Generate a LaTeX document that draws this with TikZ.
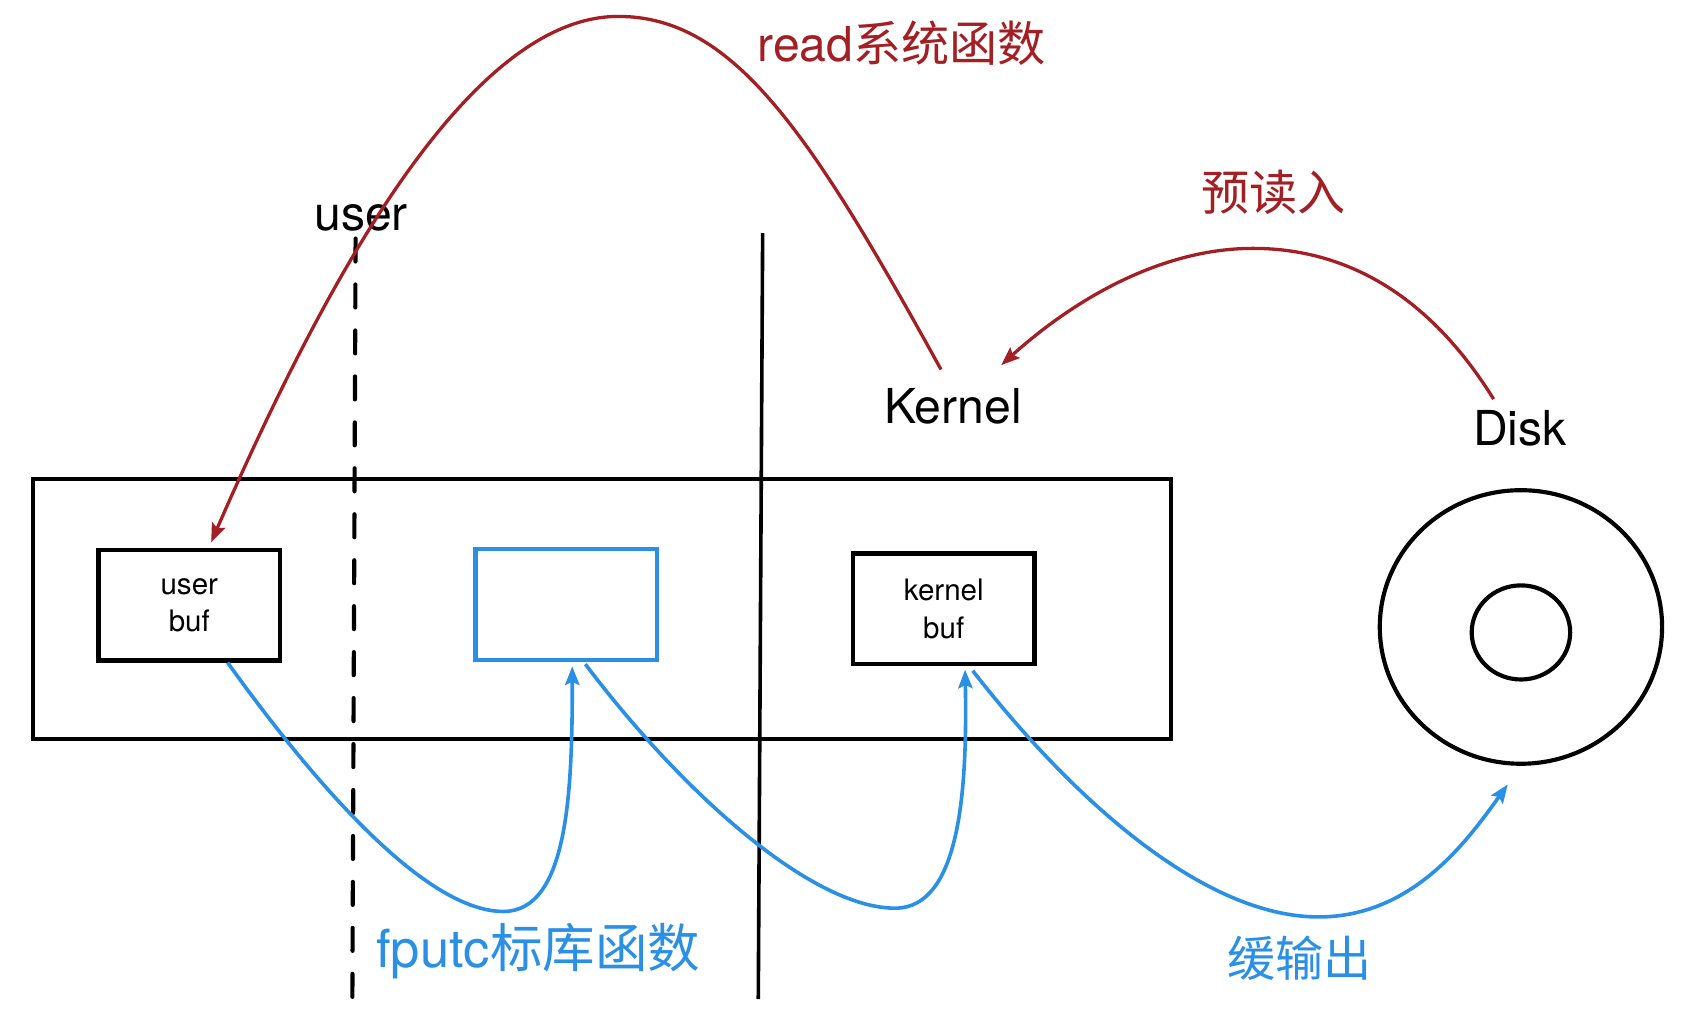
\documentclass[tikz,border=0pt]{standalone}
\usepackage{fontspec}
\setmainfont{TeX Gyre Heros}
\newfontfamily\cjk{Noto Sans CJK SC}
\usepackage{xcolor}
\usetikzlibrary{calc,arrows.meta,shapes.geometric}
\definecolor{sysred}{HTML}{A31F24}
\definecolor{libblue}{HTML}{2A90E6}
\tikzset{
  frame/.style={draw=black, line width=3.5pt},
  sep/.style={draw=black, line width=3.8pt},
  buf/.style={draw=black, line width=4pt, minimum width=166pt, minimum height=101pt,
    align=center, inner sep=0pt, font=\fontsize{27}{34}\selectfont},
  plate/.style={draw=black, line width=3.8pt, ellipse, inner sep=0pt},
  lab/.style={font=\fontsize{44}{44}\selectfont, inner sep=0pt, anchor=base},
  redarr/.style={draw=sysred, line width=3pt, -{Stealth[length=17pt,width=13pt,inset=3pt]}},
  bluearr/.style={draw=libblue, line width=3.3pt, -{Stealth[length=17pt,width=13pt,inset=3pt]}},
}

\begin{document}
\begin{tikzpicture}[x=1pt,y=-1pt]
  \useasboundingbox[fill=white] (0,0) rectangle (1550,941);

  % user / kernel border lines
  \draw[sep, line cap=round, dash pattern=on 21pt off 21pt] (325,218) -- (322,920);
  \draw[sep, line width=3.3pt] (697,213) -- (693,913);

  % memory and buffers
  \draw[frame] (30,438) rectangle (1070,675);
  \node[buf] (ubuf) at (173,553) {user\\buf};
  \node[buf, draw=libblue] (lbuf) at (517.5,552.5) {};
  \node[buf] (kbuf) at (862.5,556.5) {kernel\\buf};

  % disk
  \node[plate, minimum width=258pt, minimum height=250pt] (disk) at (1390,573) {};
  \node[plate, minimum width=90pt, minimum height=86pt] (hub) at (1390,578) {};

  \node[lab] (userlab) at (330,211) {user};
  \node[lab] (kernlab) at (871,387) {Kernel};
  \node[lab] (disklab) at (1389,407) {Disk};

  \node[lab, text=sysred] (readlab) at (824,56) {read{\cjk 系统函数}};
  \node[lab, text=sysred] (prelab) at (1164,192) {\cjk 预读入};
  \node[lab, text=libblue, font=\fontsize{48}{48}\selectfont] (fputlab) at (492,884) {fputc{\cjk 标库函数}};
  \node[lab, text=libblue] (outlab) at (1188,892) {\cjk 缓输出};

  % read system call
  \draw[redarr] ($(kernlab.north)+(-11,-17)$) .. controls (740,120) and (670,15) .. (565,15)
    .. controls (430,15) and (300,250) .. ($(ubuf.north)+(20,-5)$);
  % read ahead
  \draw[redarr] ($(disklab.north)+(-24,-10)$) .. controls (1300,260) and (1220,227) .. (1145,227)
    .. controls (1060,227) and (980,275) .. ($(kernlab.north)+(44,-21)$);

  % fputc and buffered output
  \draw[bluearr] ($(ubuf.south)+(35,0)$) .. controls (290,720) and (390,833) .. (460,833)
    .. controls (520,833) and (523,720) .. ($(lbuf.south)+(5.5,4)$);
  \draw[bluearr] ($(lbuf.south)+(17.5,2)$) .. controls (620,720) and (740,830) .. (818,830)
    .. controls (878,830) and (884,720) .. ($(kbuf.south)+(19.5,3)$);
  \draw[bluearr] ($(kbuf.south)+(26.5,4)$) .. controls (980,730) and (1100,838) .. (1205,838)
    .. controls (1290,838) and (1340,770) .. ($(disk.south)+(-12,17)$);
\end{tikzpicture}
\end{document}
